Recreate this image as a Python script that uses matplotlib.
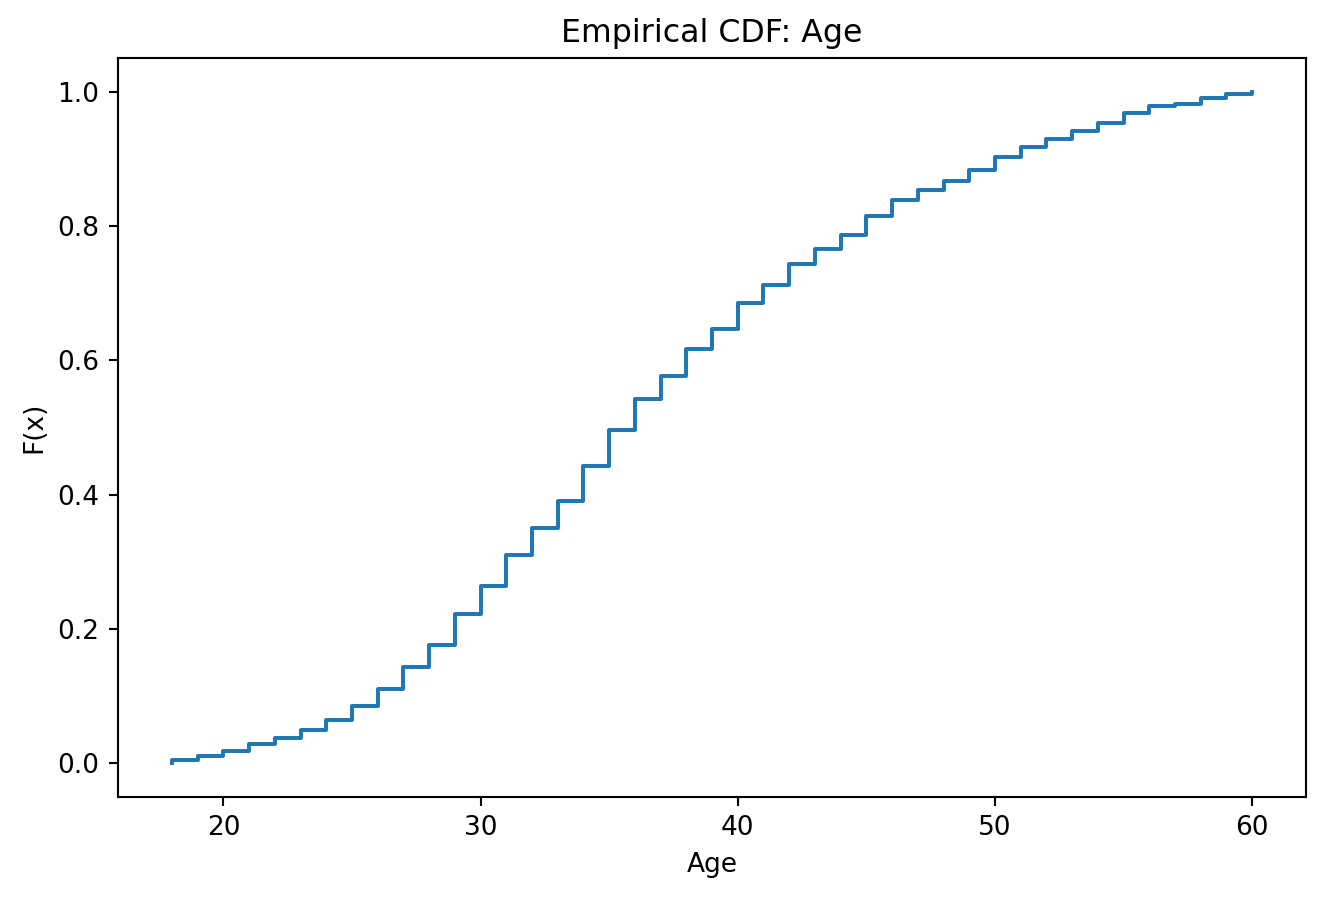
import matplotlib
matplotlib.use("Agg")
import matplotlib.pyplot as plt

# ages and empirical CDF values
ages = [18, 19, 20, 21, 22, 23, 24, 25, 26, 27, 28, 29, 30, 31, 32, 33, 34, 35, 36,
        37, 38, 39, 40, 41, 42, 43, 44, 45, 46, 47, 48, 49, 50, 51, 52, 53, 54,
        55, 56, 57, 58, 59, 60]
cdf = [0.005, 0.011, 0.019, 0.029, 0.038, 0.049, 0.065, 0.085, 0.111, 0.143,
       0.176, 0.223, 0.264, 0.310, 0.351, 0.390, 0.443, 0.497, 0.543, 0.577,
       0.617, 0.646, 0.685, 0.712, 0.743, 0.765, 0.787, 0.815, 0.838, 0.854,
       0.867, 0.883, 0.903, 0.917, 0.929, 0.941, 0.954, 0.968, 0.979, 0.981,
       0.990, 0.997, 1.000]

# start from (min age, 0) so the first jump is drawn
x = [ages[0]] + ages
y = [0.0] + cdf

DPI = 190
fig, ax = plt.subplots(figsize=(1326 / DPI, 898 / DPI), dpi=DPI)
fig.subplots_adjust(left=0.089, right=0.985, top=0.9354, bottom=0.1125)

ax.step(x, y, where="post", linewidth=1.5)
ax.set_title("Empirical CDF: Age")
ax.set_xlabel("Age")
ax.set_ylabel("F(x)")

fig.savefig("out.png", dpi=DPI)
